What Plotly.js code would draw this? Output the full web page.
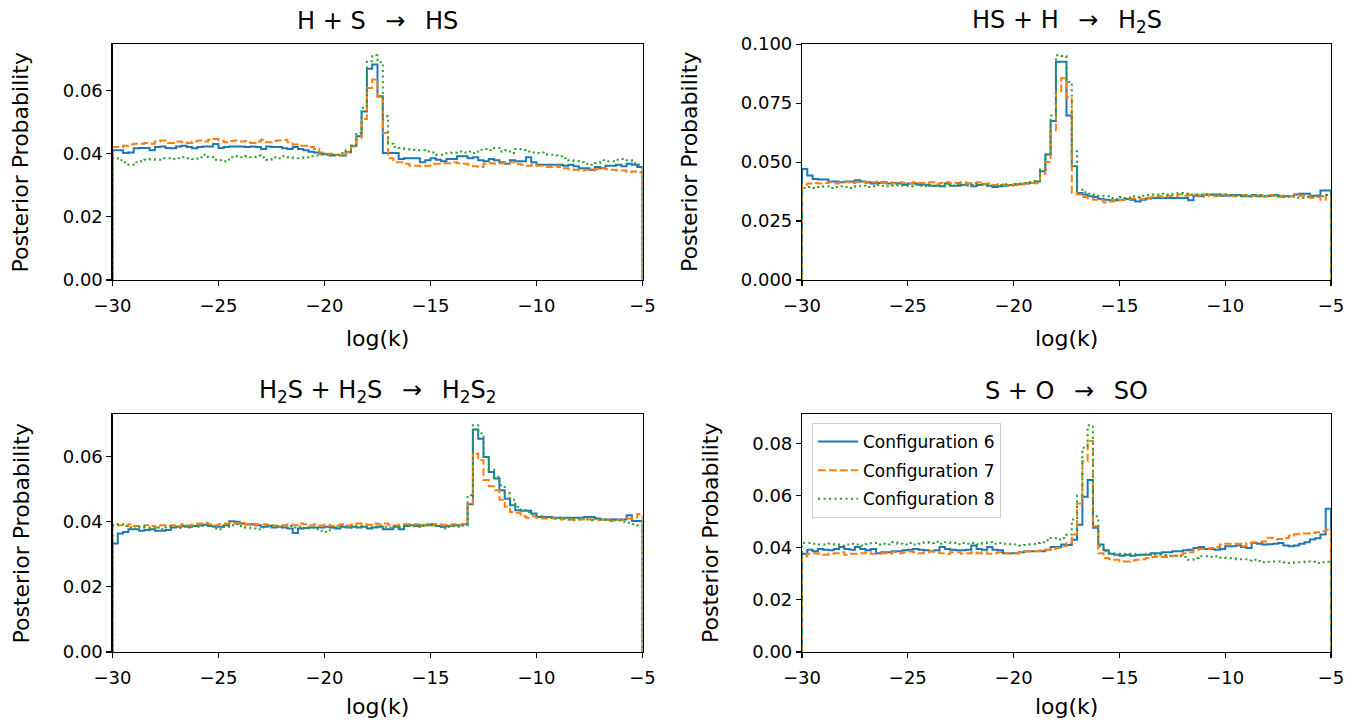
<!DOCTYPE html>
<html><head><meta charset="utf-8">
<script src="https://cdn.plot.ly/plotly-3.0.1.min.js"></script>
<style>html,body{margin:0;padding:0;background:#fff;} #chart{width:1359px;height:722px;}</style>
</head><body><div id="chart"></div>
<script>
// Histogram range (log k) and bins
const BIN_LO = -30, BIN_HI = -5;
const seriesNames = ['Configuration 6', 'Configuration 7', 'Configuration 8'];
const seriesColors = ['#1f77b4', '#ff7f0e', '#2ca02c'];
const seriesDash = ['solid', '7.7px,3.3px', '2.1px,3.4px'];
const panelTitles = ['H + S \u2002→\u2002 HS', 'HS + H \u2002→\u2002 H<sub>2</sub>S',
  'H<sub>2</sub>S + H<sub>2</sub>S \u2002→\u2002 H<sub>2</sub>S<sub>2</sub>', 'S + O \u2002→\u2002 SO'];
const xTickVals = [-30, -25, -20, -15, -10, -5];
const yTickSteps = [0.02, 0.025, 0.02, 0.02];
const yTickFormats = ['.2f', '.3f', '.2f', '.2f'];
const xLabel = 'log(k)';
const yLabel = 'Posterior Probability';

// Panel 1: H + S -> HS
const hsC6 = [0.0411,0.0411,0.0402,0.0404,0.0417,0.0418,0.0418,0.0411,0.0421,0.0423,
0.0418,0.0417,0.0423,0.0425,0.0421,0.0417,0.0421,0.0423,0.0423,0.0431,
0.0418,0.0421,0.0423,0.0423,0.0423,0.0421,0.0423,0.0421,0.0415,0.0423,
0.0421,0.0421,0.0417,0.0415,0.0421,0.0415,0.0411,0.0406,0.0404,0.0400,
0.0398,0.0394,0.0396,0.0394,0.0405,0.0425,0.0455,0.0534,0.0669,0.0683,
0.0582,0.0402,0.0402,0.0402,0.0383,0.0386,0.0386,0.0386,0.0373,0.0379,
0.0386,0.0381,0.0376,0.0383,0.0383,0.0392,0.0392,0.0386,0.0389,0.0379,
0.0376,0.0383,0.0379,0.0373,0.0368,0.0379,0.0376,0.0376,0.0389,0.0373,
0.0365,0.0365,0.0365,0.0365,0.0365,0.0362,0.0365,0.0360,0.0354,0.0354,
0.0349,0.0358,0.0354,0.0362,0.0362,0.0365,0.0360,0.0368,0.0365,0.0358];
const hsC7 = [0.0421,0.0421,0.0425,0.0429,0.0432,0.0432,0.0434,0.0432,0.0439,0.0442,
0.0434,0.0434,0.0439,0.0436,0.0434,0.0439,0.0442,0.0439,0.0444,0.0447,
0.0442,0.0436,0.0440,0.0442,0.0439,0.0440,0.0434,0.0439,0.0444,0.0436,
0.0440,0.0442,0.0444,0.0436,0.0429,0.0425,0.0425,0.0421,0.0415,0.0404,
0.0400,0.0400,0.0397,0.0394,0.0404,0.0423,0.0450,0.0510,0.0608,0.0635,
0.0580,0.0466,0.0386,0.0373,0.0373,0.0368,0.0362,0.0362,0.0360,0.0362,
0.0368,0.0368,0.0370,0.0370,0.0373,0.0370,0.0368,0.0365,0.0360,0.0358,
0.0368,0.0370,0.0368,0.0370,0.0368,0.0373,0.0368,0.0365,0.0362,0.0365,
0.0362,0.0362,0.0358,0.0362,0.0358,0.0354,0.0351,0.0349,0.0347,0.0349,
0.0347,0.0351,0.0354,0.0351,0.0349,0.0347,0.0347,0.0341,0.0344,0.0341];
const hsC8 = [0.0386,0.0379,0.0373,0.0365,0.0373,0.0376,0.0381,0.0383,0.0381,0.0386,
0.0386,0.0383,0.0386,0.0389,0.0386,0.0383,0.0389,0.0397,0.0389,0.0381,
0.0379,0.0376,0.0389,0.0392,0.0389,0.0392,0.0389,0.0394,0.0389,0.0381,
0.0389,0.0386,0.0392,0.0389,0.0386,0.0386,0.0389,0.0392,0.0394,0.0397,
0.0397,0.0397,0.0397,0.0402,0.0410,0.0425,0.0466,0.0546,0.0693,0.0712,
0.0690,0.0519,0.0432,0.0421,0.0418,0.0415,0.0413,0.0411,0.0411,0.0407,
0.0404,0.0397,0.0397,0.0402,0.0404,0.0407,0.0404,0.0407,0.0402,0.0413,
0.0415,0.0411,0.0418,0.0407,0.0411,0.0402,0.0415,0.0411,0.0407,0.0404,
0.0402,0.0404,0.0397,0.0394,0.0392,0.0386,0.0379,0.0376,0.0373,0.0368,
0.0365,0.0370,0.0379,0.0376,0.0376,0.0381,0.0383,0.0379,0.0370,0.0365];

// Panel 2: HS + H -> H2S
const h2sC6 = [0.0471,0.0443,0.0428,0.0426,0.0426,0.0418,0.0418,0.0414,0.0418,0.0418,
0.0423,0.0418,0.0414,0.0409,0.0411,0.0414,0.0409,0.0411,0.0409,0.0404,
0.0409,0.0409,0.0404,0.0404,0.0400,0.0400,0.0397,0.0409,0.0400,0.0400,
0.0404,0.0409,0.0397,0.0403,0.0406,0.0400,0.0394,0.0397,0.0400,0.0403,
0.0406,0.0406,0.0409,0.0411,0.0418,0.0461,0.0532,0.0674,0.0925,0.0925,
0.0698,0.0482,0.0369,0.0362,0.0355,0.0352,0.0343,0.0340,0.0338,0.0338,
0.0340,0.0343,0.0340,0.0333,0.0340,0.0346,0.0348,0.0348,0.0348,0.0348,
0.0348,0.0348,0.0348,0.0338,0.0357,0.0355,0.0362,0.0362,0.0362,0.0357,
0.0357,0.0360,0.0360,0.0355,0.0355,0.0360,0.0355,0.0355,0.0357,0.0360,
0.0355,0.0355,0.0355,0.0362,0.0366,0.0366,0.0357,0.0357,0.0380,0.0380];
const h2sC7 = [0.0404,0.0409,0.0411,0.0409,0.0411,0.0414,0.0409,0.0414,0.0417,0.0411,
0.0414,0.0417,0.0411,0.0414,0.0417,0.0411,0.0414,0.0409,0.0414,0.0411,
0.0409,0.0414,0.0411,0.0409,0.0414,0.0406,0.0411,0.0414,0.0409,0.0411,
0.0414,0.0409,0.0411,0.0414,0.0406,0.0409,0.0403,0.0406,0.0403,0.0400,
0.0403,0.0406,0.0409,0.0411,0.0410,0.0450,0.0500,0.0635,0.0800,0.0855,
0.0775,0.0370,0.0362,0.0352,0.0346,0.0340,0.0338,0.0329,0.0333,0.0338,
0.0340,0.0343,0.0346,0.0348,0.0343,0.0349,0.0352,0.0355,0.0352,0.0357,
0.0355,0.0362,0.0357,0.0360,0.0362,0.0357,0.0360,0.0355,0.0357,0.0362,
0.0360,0.0355,0.0357,0.0360,0.0355,0.0357,0.0360,0.0355,0.0360,0.0357,
0.0352,0.0357,0.0355,0.0360,0.0357,0.0355,0.0349,0.0352,0.0340,0.0360];
const h2sC8 = [0.0390,0.0394,0.0390,0.0394,0.0397,0.0390,0.0394,0.0397,0.0394,0.0390,
0.0397,0.0400,0.0394,0.0397,0.0403,0.0400,0.0397,0.0400,0.0403,0.0400,
0.0397,0.0403,0.0400,0.0397,0.0403,0.0400,0.0397,0.0403,0.0400,0.0406,
0.0403,0.0400,0.0403,0.0406,0.0403,0.0400,0.0397,0.0403,0.0406,0.0403,
0.0406,0.0409,0.0411,0.0414,0.0420,0.0468,0.0532,0.0698,0.0953,0.0950,
0.0840,0.0546,0.0383,0.0372,0.0366,0.0362,0.0357,0.0355,0.0348,0.0343,
0.0352,0.0348,0.0355,0.0352,0.0357,0.0360,0.0362,0.0363,0.0366,0.0362,
0.0366,0.0369,0.0366,0.0362,0.0360,0.0363,0.0362,0.0360,0.0357,0.0363,
0.0362,0.0360,0.0357,0.0360,0.0355,0.0357,0.0360,0.0355,0.0357,0.0360,
0.0355,0.0352,0.0355,0.0349,0.0348,0.0352,0.0355,0.0357,0.0355,0.0360];

// Panel 3: H2S + H2S -> H2S2
const h2s2C6 = [0.0333,0.0363,0.0368,0.0376,0.0376,0.0372,0.0374,0.0376,0.0372,0.0372,
0.0374,0.0382,0.0384,0.0386,0.0384,0.0386,0.0388,0.0390,0.0386,0.0384,
0.0384,0.0389,0.0401,0.0399,0.0394,0.0391,0.0392,0.0389,0.0384,0.0386,
0.0382,0.0384,0.0382,0.0379,0.0365,0.0379,0.0380,0.0382,0.0382,0.0382,
0.0384,0.0382,0.0379,0.0384,0.0382,0.0384,0.0382,0.0384,0.0379,0.0382,
0.0384,0.0376,0.0376,0.0384,0.0376,0.0386,0.0389,0.0386,0.0389,0.0389,
0.0392,0.0386,0.0384,0.0386,0.0389,0.0389,0.0392,0.0453,0.0682,0.0654,
0.0598,0.0552,0.0532,0.0496,0.0470,0.0450,0.0435,0.0433,0.0433,0.0425,
0.0414,0.0414,0.0414,0.0412,0.0412,0.0412,0.0412,0.0412,0.0412,0.0414,
0.0414,0.0409,0.0406,0.0406,0.0406,0.0406,0.0406,0.0419,0.0402,0.0402];
const h2s2C7 = [0.0392,0.0389,0.0386,0.0392,0.0386,0.0384,0.0389,0.0386,0.0382,0.0389,
0.0386,0.0389,0.0386,0.0392,0.0389,0.0392,0.0394,0.0396,0.0392,0.0389,
0.0392,0.0394,0.0396,0.0394,0.0396,0.0392,0.0389,0.0392,0.0392,0.0390,
0.0388,0.0386,0.0389,0.0392,0.0389,0.0394,0.0392,0.0389,0.0392,0.0388,
0.0390,0.0386,0.0389,0.0392,0.0388,0.0390,0.0394,0.0392,0.0390,0.0394,
0.0392,0.0394,0.0390,0.0388,0.0390,0.0392,0.0389,0.0392,0.0386,0.0390,
0.0389,0.0392,0.0390,0.0388,0.0392,0.0390,0.0392,0.0455,0.0608,0.0588,
0.0527,0.0508,0.0496,0.0467,0.0445,0.0429,0.0427,0.0416,0.0412,0.0416,
0.0412,0.0409,0.0412,0.0409,0.0406,0.0409,0.0406,0.0404,0.0406,0.0409,
0.0406,0.0404,0.0406,0.0404,0.0402,0.0404,0.0406,0.0409,0.0412,0.0423];
const h2s2C8 = [0.0389,0.0392,0.0386,0.0382,0.0379,0.0384,0.0382,0.0379,0.0382,0.0376,
0.0382,0.0384,0.0380,0.0384,0.0382,0.0386,0.0384,0.0388,0.0386,0.0379,
0.0376,0.0384,0.0389,0.0392,0.0386,0.0382,0.0379,0.0376,0.0382,0.0384,
0.0388,0.0384,0.0382,0.0386,0.0382,0.0384,0.0379,0.0382,0.0376,0.0372,
0.0368,0.0382,0.0384,0.0386,0.0384,0.0382,0.0386,0.0384,0.0382,0.0384,
0.0386,0.0384,0.0382,0.0386,0.0384,0.0388,0.0386,0.0384,0.0388,0.0392,
0.0389,0.0386,0.0379,0.0384,0.0386,0.0384,0.0388,0.0481,0.0695,0.0671,
0.0598,0.0559,0.0537,0.0511,0.0487,0.0467,0.0445,0.0435,0.0429,0.0423,
0.0416,0.0414,0.0412,0.0409,0.0412,0.0409,0.0406,0.0409,0.0412,0.0406,
0.0404,0.0409,0.0406,0.0404,0.0406,0.0404,0.0399,0.0396,0.0392,0.0389];

// Panel 4: S + O -> SO
const soC6 = [0.0377,0.0392,0.0386,0.0395,0.0392,0.0390,0.0395,0.0403,0.0395,0.0392,
0.0403,0.0395,0.0390,0.0395,0.0379,0.0382,0.0382,0.0386,0.0386,0.0390,
0.0392,0.0395,0.0392,0.0390,0.0386,0.0390,0.0403,0.0395,0.0392,0.0390,
0.0390,0.0392,0.0408,0.0395,0.0392,0.0403,0.0392,0.0390,0.0379,0.0379,
0.0379,0.0382,0.0386,0.0386,0.0386,0.0386,0.0392,0.0403,0.0403,0.0412,
0.0410,0.0430,0.0488,0.0595,0.0659,0.0476,0.0412,0.0390,0.0377,0.0373,
0.0369,0.0373,0.0369,0.0372,0.0373,0.0373,0.0379,0.0379,0.0382,0.0382,
0.0386,0.0386,0.0390,0.0392,0.0399,0.0403,0.0395,0.0395,0.0392,0.0395,
0.0405,0.0405,0.0408,0.0403,0.0399,0.0418,0.0415,0.0412,0.0413,0.0415,
0.0418,0.0408,0.0405,0.0408,0.0415,0.0421,0.0431,0.0436,0.0450,0.0549];
const soC7 = [0.0367,0.0377,0.0379,0.0377,0.0373,0.0377,0.0379,0.0382,0.0373,0.0377,
0.0377,0.0379,0.0382,0.0377,0.0377,0.0379,0.0377,0.0382,0.0379,0.0382,
0.0385,0.0382,0.0379,0.0382,0.0385,0.0382,0.0379,0.0377,0.0382,0.0382,
0.0377,0.0379,0.0382,0.0379,0.0382,0.0377,0.0379,0.0382,0.0379,0.0377,
0.0379,0.0382,0.0385,0.0386,0.0387,0.0390,0.0392,0.0395,0.0399,0.0405,
0.0418,0.0450,0.0569,0.0732,0.0809,0.0482,0.0379,0.0360,0.0356,0.0354,
0.0347,0.0347,0.0351,0.0354,0.0356,0.0360,0.0364,0.0367,0.0364,0.0367,
0.0369,0.0373,0.0379,0.0382,0.0392,0.0395,0.0395,0.0399,0.0403,0.0412,
0.0415,0.0412,0.0415,0.0405,0.0418,0.0421,0.0421,0.0424,0.0438,0.0431,
0.0433,0.0437,0.0446,0.0451,0.0454,0.0454,0.0456,0.0459,0.0463,0.0469];
const soC8 = [0.0418,0.0418,0.0415,0.0412,0.0412,0.0415,0.0412,0.0408,0.0412,0.0415,
0.0412,0.0408,0.0413,0.0418,0.0412,0.0415,0.0412,0.0421,0.0415,0.0412,
0.0418,0.0412,0.0415,0.0421,0.0418,0.0423,0.0415,0.0421,0.0418,0.0413,
0.0418,0.0415,0.0418,0.0413,0.0418,0.0421,0.0415,0.0418,0.0415,0.0413,
0.0412,0.0408,0.0410,0.0413,0.0418,0.0421,0.0428,0.0437,0.0431,0.0437,
0.0450,0.0508,0.0600,0.0783,0.0869,0.0520,0.0405,0.0386,0.0379,0.0377,
0.0377,0.0376,0.0377,0.0373,0.0373,0.0377,0.0374,0.0373,0.0372,0.0369,
0.0369,0.0367,0.0364,0.0354,0.0360,0.0367,0.0367,0.0364,0.0367,0.0362,
0.0360,0.0359,0.0356,0.0356,0.0351,0.0354,0.0349,0.0344,0.0346,0.0347,
0.0347,0.0344,0.0341,0.0344,0.0344,0.0347,0.0346,0.0341,0.0344,0.0346];

const panelSeries = [[hsC6, hsC7, hsC8], [h2sC6, h2sC7, h2sC8], [h2s2C6, h2s2C7, h2s2C8], [soC6, soC7, soC8]];

// ---- layout geometry (pixels in a 1359x722 figure) ----
const W = 1359, H = 722;
const colPx = [[112.5, 642.5], [802, 1331]];
const rowPx = [[44, 280], [414, 652]];

function stepXY(vals) {
  const w = (BIN_HI - BIN_LO) / vals.length;
  const x = [BIN_LO], y = [0];
  for (let i = 0; i < vals.length; i++) { x.push(BIN_LO + i * w); y.push(vals[i]); }
  x.push(BIN_HI); y.push(0);
  return {x, y};
}

const traces = [];
const layout = {
  width: W, height: H,
  margin: {l: 0, r: 0, t: 0, b: 0},
  paper_bgcolor: '#ffffff', plot_bgcolor: '#ffffff',
  font: {family: 'DejaVu Sans, sans-serif', size: 18, color: '#000000'},
  showlegend: true,
  legend: {x: 812 / W, y: 1 - 423 / H, xanchor: 'left', yanchor: 'top',
    bgcolor: 'rgba(255,255,255,0.8)', bordercolor: '#cccccc', borderwidth: 1,
    font: {size: 17, color: '#000000'}, tracegroupgap: 3.5, itemwidth: 40},
  annotations: [],
  hovermode: false
};

panelSeries.forEach((series, p) => {
  const col = p % 2, row = Math.floor(p / 2);
  const ax = p === 0 ? '' : String(p + 1);
  const xa = 'x' + ax, ya = 'y' + ax;
  let ymax = 0;
  series.forEach((vals, s) => {
    vals.forEach(v => { if (v > ymax) ymax = v; });
    const xy = stepXY(vals);
    traces.push({
      type: 'scatter', mode: 'lines', x: xy.x, y: xy.y, xaxis: xa, yaxis: ya,
      line: {shape: 'hv', color: seriesColors[s], width: 2, dash: seriesDash[s]},
      name: seriesNames[s], showlegend: p === 3, legendgroup: 'g' + s,
      hoverinfo: 'skip', cliponaxis: true
    });
  });
  const xd = [colPx[col][0] / W, colPx[col][1] / W];
  const yd = [1 - rowPx[row][1] / H, 1 - rowPx[row][0] / H];
  const common = {showline: true, mirror: true, linecolor: '#000000', linewidth: 1.1,
    ticks: 'outside', ticklen: 5, tickwidth: 1.1, tickcolor: '#000000',
    showgrid: false, zeroline: false, tickfont: {size: 18, color: '#000000'}};
  layout['xaxis' + ax] = Object.assign({}, common, {domain: xd, anchor: ya,
    range: [BIN_LO, BIN_HI], tickmode: 'array', tickvals: xTickVals, ticklabelstandoff: 4});
  layout['yaxis' + ax] = Object.assign({}, common, {domain: yd, anchor: xa,
    range: [0, ymax * 1.05], tickmode: 'linear', tick0: 0, dtick: yTickSteps[p],
    tickformat: yTickFormats[p]});
  const cx = (colPx[col][0] + colPx[col][1]) / 2;
  const yLabelGap = yTickFormats[p] === '.3f' ? 112 : 92;
  const xLabelY = Math.min(rowPx[row][1] + 58, H - 16);
  layout.annotations.push({text: panelTitles[p], xref: 'paper', yref: 'paper',
    x: cx / W, y: 1 - (rowPx[row][0] - 23) / H, xanchor: 'center', yanchor: 'middle',
    showarrow: false, font: {size: 24, color: '#000000'}});
  layout.annotations.push({text: xLabel, xref: 'paper', yref: 'paper',
    x: cx / W, y: 1 - xLabelY / H, xanchor: 'center', yanchor: 'middle',
    showarrow: false, font: {size: 22, color: '#000000'}});
  layout.annotations.push({text: yLabel, xref: 'paper', yref: 'paper', textangle: -90,
    x: (colPx[col][0] - yLabelGap) / W, y: 1 - (rowPx[row][0] + rowPx[row][1]) / 2 / H,
    xanchor: 'center', yanchor: 'middle',
    showarrow: false, font: {size: 22, color: '#000000'}});
});

Plotly.newPlot('chart', traces, layout, {staticPlot: true, displayModeBar: false});
</script></body></html>
